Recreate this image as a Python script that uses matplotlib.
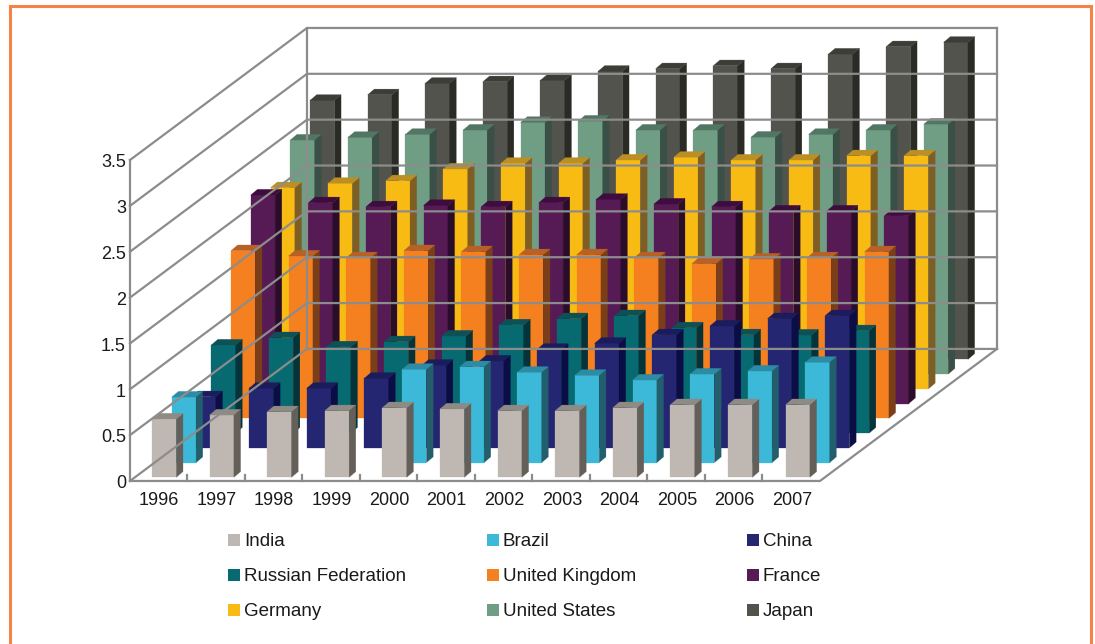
import matplotlib
matplotlib.use('Agg')
import matplotlib.pyplot as plt
from matplotlib.patches import Polygon, Rectangle

plt.rcParams['font.family'] = ['Liberation Sans', 'DejaVu Sans']

years = ['1996', '1997', '1998', '1999', '2000', '2001',
         '2002', '2003', '2004', '2005', '2006', '2007']
yticks = [0, 0.5, 1, 1.5, 2, 2.5, 3, 3.5]
yticklabels = ['0', '0.5', '1', '1.5', '2', '2.5', '3', '3.5']

countries = ['India', 'Brazil', 'China', 'Russian Federation', 'United Kingdom',
             'France', 'Germany', 'United States', 'Japan']

nan = float('nan')
india = [0.636, 0.679, 0.715, 0.726, 0.759, 0.745, 0.726, 0.726, 0.759, 0.792, 0.792, 0.792]
brazil = [0.714, nan, nan, nan, 1.016, 1.045, 0.984, 0.951, 0.900, 0.965, 0.998, 1.093]
china = [0.557, 0.649, 0.649, 0.758, 0.900, 0.947, 1.074, 1.140, 1.233, 1.328, 1.408, 1.440]
russia = [0.960, 1.040, 0.940, 0.996, 1.058, 1.180, 1.247, 1.280, 1.148, 1.072, 1.069, 1.116]
uk = [1.828, 1.770, 1.751, 1.828, 1.817, 1.784, 1.784, 1.751, 1.686, 1.737, 1.751, 1.817]
france = [2.274, 2.190, 2.146, 2.161, 2.146, 2.190, 2.227, 2.176, 2.146, 2.100, 2.100, 2.048]
germany = [2.193, 2.241, 2.269, 2.397, 2.459, 2.459, 2.495, 2.525, 2.495, 2.495, 2.542, 2.542]
usa = [2.552, 2.581, 2.614, 2.661, 2.745, 2.759, 2.661, 2.661, 2.584, 2.614, 2.661, 2.726]
japan = [2.824, 2.885, 3.010, 3.027, 3.043, 3.141, 3.169, 3.202, 3.169, 3.329, 3.409, 3.457]
series = [india, brazil, china, russia, uk, france, germany, usa, japan]

# front, side and top shades of each bar
front = ['#bfb7b1', '#3cb9d8', '#252672', '#066a70', '#f58020',
         '#561a55', '#f8bb14', '#709e85', '#53534e']
side = ['#655f59', '#225e6c', '#0b0d45', '#04333a', '#7a3f18',
        '#2a0d2b', '#7e5e22', '#3a4f45', '#2a2b25']
top = ['#8f8a84', '#2d8ca4', '#1b1c5c', '#0d5157', '#b86127',
       '#3f0c40', '#bb8f24', '#527664', '#3c3d37']

W, H = 1095, 644
GRID = '#8c8c8c'
TEXT = '#1a1a1a'

# oblique projection: one step back along the depth axis shifts x and y
STEP_X, STEP_Y = 0.343, 0.1608
BAR_W = 0.422
BAR_DX, BAR_DY = 0.116, 0.062

# walls and floor
X0, X1, Y0 = -0.382, 11.597, -0.04
BACK_X, BACK_Y = 3.073, 1.44


def draw_bar(ax, i, s, value):
    x = i + s * STEP_X
    y = s * STEP_Y
    faces = [
        ([(x, y), (x + BAR_W, y), (x + BAR_W, y + value), (x, y + value)], front[s]),
        ([(x + BAR_W, y), (x + BAR_W + BAR_DX, y + BAR_DY),
          (x + BAR_W + BAR_DX, y + value + BAR_DY), (x + BAR_W, y + value)], side[s]),
        ([(x, y + value), (x + BAR_W, y + value),
          (x + BAR_W + BAR_DX, y + value + BAR_DY), (x + BAR_DX, y + value + BAR_DY)], top[s]),
    ]
    for pts, color in faces:
        ax.add_patch(Polygon(pts, closed=True, facecolor=color, edgecolor=color, linewidth=0.2))


def line(ax, xs, ys, lw=1.6):
    ax.plot(xs, ys, color=GRID, lw=lw, solid_capstyle='projecting')


fig = plt.figure(figsize=(W / 100, H / 100), dpi=100)
ax = fig.add_axes([0, 0, 1, 1])
# x in categories, y in value units; 57.6 and 91.7 px per unit, first bar at (152, 477.3)
ax.set_xlim(-152 / 57.6, (W - 152) / 57.6)
ax.set_ylim((477.3 - H) / 91.7, 477.3 / 91.7)
ax.axis('off')

# outer frame, its bottom edge runs off the page
fig.add_artist(Rectangle((9.5 / W, -0.1), (1090.5 - 9.5) / W, 1.1 - 6 / H, fill=False,
                         edgecolor='#f58345', linewidth=2.2, transform=fig.transFigure))

for v in yticks:
    line(ax, [X0, X0 + BACK_X, X1 + BACK_X], [Y0 + v, Y0 + BACK_Y + v, Y0 + BACK_Y + v])
line(ax, [X0, X0], [Y0, Y0 + 3.5])
line(ax, [X0 + BACK_X, X0 + BACK_X], [Y0 + BACK_Y, Y0 + BACK_Y + 3.5])
line(ax, [X1 + BACK_X, X1 + BACK_X], [Y0 + BACK_Y, Y0 + BACK_Y + 3.5])
line(ax, [X0, X1, X1 + BACK_X], [Y0, Y0, Y0 + BACK_Y])

for i in range(1, len(years)):
    tx = X0 + i * (X1 - X0) / len(years)
    line(ax, [tx, tx], [Y0, Y0 + 0.065])

# painter's order, back row first
for s in range(len(series) - 1, -1, -1):
    for i, value in enumerate(series[s]):
        if value == value:
            draw_bar(ax, i, s, value)

for i, year in enumerate(years):
    ax.text(i + 0.116, -0.25, year, ha='center', va='center', fontsize=13, color=TEXT)
for v, label in zip(yticks, yticklabels):
    ax.text(X0 - 0.07, Y0 + v - 0.03, label, ha='right', va='center', fontsize=13, color=TEXT)

# legend, three rows of three
col_x = [228, 487, 747]
row_y = [540, 575, 610]
for k, name in enumerate(countries):
    px, py = col_x[k % 3], row_y[k // 3]
    fig.add_artist(Rectangle((px / W, 1 - (py + 6) / H), 12 / W, 12 / H, facecolor=front[k],
                             edgecolor='none', transform=fig.transFigure))
    fig.text((px + 16) / W, 1 - (py + 1.5) / H, name, ha='left', va='center', fontsize=13.5, color=TEXT)

fig.savefig('out.png', dpi=100)
